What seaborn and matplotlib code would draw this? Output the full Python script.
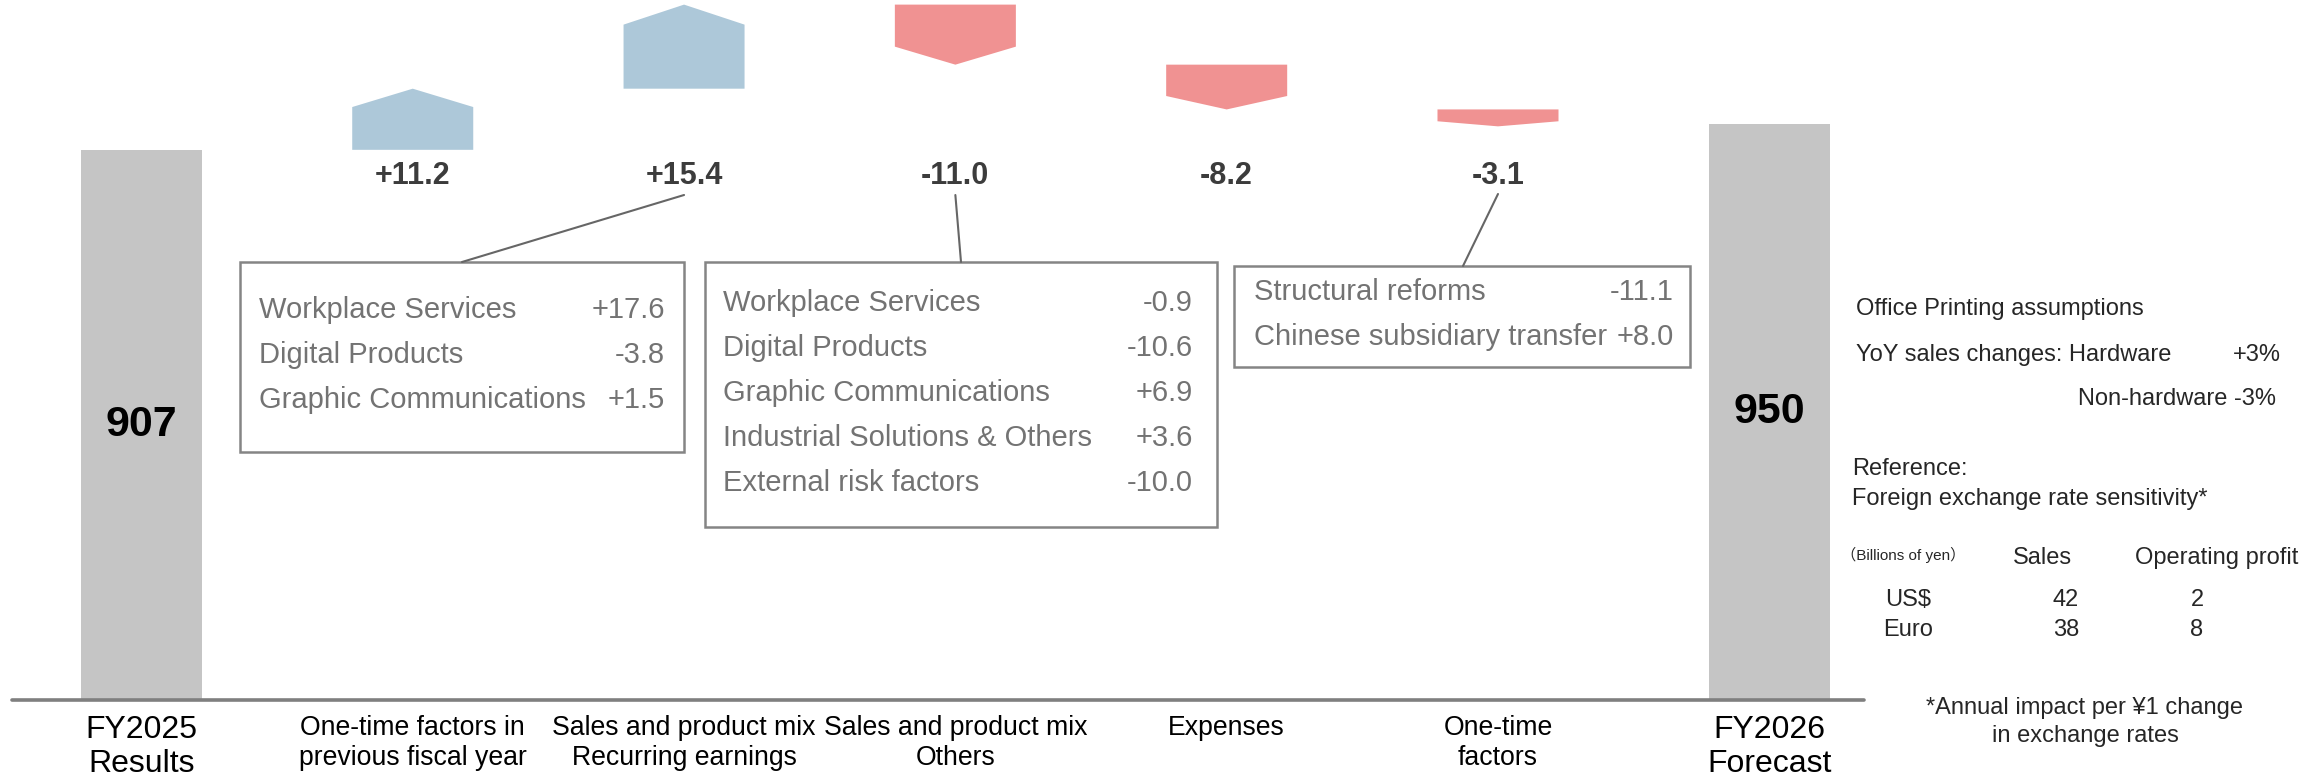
import numpy as np
import pandas as pd
import matplotlib
matplotlib.use("Agg")
import matplotlib.pyplot as plt
import seaborn as sns
from matplotlib.patches import Rectangle, Polygon
from matplotlib.lines import Line2D
from matplotlib.transforms import blended_transform_factory

# ---------------- data ----------------
categories = ["FY2025\nResults", "One-time factors in\nprevious fiscal year",
              "Sales and product mix\nRecurring earnings", "Sales and product mix\nOthers",
              "Expenses", "One-time\nfactors", "FY2026\nForecast"]
total_categories = ["FY2025\nResults", "FY2026\nForecast"]
total_values = [907, 950]                       # 100 million yen
change_values = [11.2, 15.4, -11.0, -8.2, -3.1]  # billion yen
change_labels = ["+11.2", "+15.4", "-11.0", "-8.2", "-3.1"]

box1_items = ["Workplace Services", "Digital Products", "Graphic Communications"]
box1_values = ["+17.6", "-3.8", "+1.5"]
box2_items = ["Workplace Services", "Digital Products", "Graphic Communications",
              "Industrial Solutions & Others", "External risk factors"]
box2_values = ["-0.9", "-10.6", "+6.9", "+3.6", "-10.0"]
box3_items = ["Structural reforms", "Chinese subsidiary transfer"]
box3_values = ["-11.1", "+8.0"]

fx_currencies = ["US$", "Euro"]
fx_sales = [42, 38]
fx_op = [2, 8]

# ---------------- style ----------------
sns.set_style("white")
plt.rcParams['font.family'] = ['Liberation Sans', 'Noto Sans CJK JP', 'DejaVu Sans']

W, H = 2318, 779
fig = plt.figure(figsize=(W / 100, H / 100), dpi=100)
ax = fig.add_axes([12 / W, 79 / H, (1864 - 12) / W, 700 / H])

BAR_W = 0.446
UP, DOWN, GREY = "#adc8d9", "#f09292", "#c5c5c5"

df = pd.DataFrame({"cat": total_categories, "val": total_values})
sns.barplot(data=df, x="cat", y="val", order=categories, color=GREY,
            saturation=1, width=BAR_W, linewidth=0, ax=ax)

ax.set_xlim(-0.477, 6.349)
ax.set_ylim(0, 1154)
for s in ax.spines.values():
    s.set_visible(False)
ax.set_yticks([])
ax.set_xlabel("")
ax.set_ylabel("")
ax.axhline(0, color="#7f7f7f", lw=2.6, clip_on=False, zorder=5)
ax.tick_params(axis="x", length=0, pad=11)
for i, t in enumerate(ax.get_xticklabels()):
    t.set_fontsize(23 if i in (0, len(categories) - 1) else 19.2)
    t.set_color("black")
    t.set_multialignment("center")
    t.set_linespacing(1.17)

# totals labels
for xi, v in zip([0, len(categories) - 1], total_values):
    ax.text(xi, v / 2, f"{v}", ha="center", va="center", fontsize=31,
            fontweight="bold", color="black")

# floating arrows (waterfall, visual units of 9 per billion yen)
unit = 9.0
levels = total_values[0] + unit * np.concatenate([[0], np.cumsum(change_values)])
blend = blended_transform_factory(ax.transData, ax.transAxes)
label_pos = {}
for i, d in enumerate(change_values):
    xc = i + 1
    y0, y1 = levels[i], levels[i + 1]
    L = abs(y1 - y0)
    h = min(0.3 * L, 33)
    sgn = np.sign(y1 - y0)
    shoulder = y1 - sgn * h
    hw = BAR_W / 2
    poly = [(xc - hw, y0), (xc + hw, y0), (xc + hw, shoulder), (xc, y1), (xc - hw, shoulder)]
    ax.add_patch(Polygon(poly, closed=True, fc=UP if d > 0 else DOWN, ec="none", zorder=3))
    ax.text(xc, 0.748, change_labels[i], transform=blend, ha="center", va="center",
            fontsize=22, fontweight="bold", color="#3c3c3c")
    label_pos[xc] = ax.transData.transform((xc, 0))[0]

# ---------------- callout boxes ----------------
def F(x, y):
    return (x / W, 1 - y / H)

BOX_EC = "#858585"
TXT = "#737373"

def draw_box(x0, y0, x1, y1):
    fig.add_artist(Rectangle(F(x0, y1), (x1 - x0) / W, (y1 - y0) / H,
                             transform=fig.transFigure, fill=False, ec=BOX_EC, lw=1.8))

def draw_rows(items, values, xl, xr, ys):
    for it, v, y in zip(items, values, ys):
        fig.text(*F(xl, y), it, ha="left", va="center", fontsize=21, color=TXT)
        fig.text(*F(xr, y), v, ha="right", va="center", fontsize=21, color=TXT)

def connector(xs, ys, xe, ye):
    fig.add_artist(Line2D([xs / W, xe / W], [1 - ys / H, 1 - ye / H],
                          transform=fig.transFigure, color="#666666", lw=1.5))

draw_box(240, 262, 684, 452)
draw_rows(box1_items, box1_values, 259, 665, [310, 355, 400])
connector(label_pos[2], 195, 462, 262)

draw_box(705, 262, 1217, 527)
draw_rows(box2_items, box2_values, 723, 1193, [303, 348, 393, 438, 483])
connector(label_pos[3], 195, 961, 262)

draw_box(1234, 266, 1690, 367)
draw_rows(box3_items, box3_values, 1254, 1674, [292, 337])
connector(label_pos[5], 194, 1463, 266)

# ---------------- right panel ----------------
FS = 17
fig.text(*F(1856, 309), "Office Printing assumptions", ha="left", va="center", fontsize=FS)
fig.text(*F(1856, 355), "YoY sales changes: Hardware", ha="left", va="center", fontsize=FS)
fig.text(*F(2281, 355), "+3%", ha="right", va="center", fontsize=FS)
fig.text(*F(2276, 399), "Non-hardware -3%", ha="right", va="center", fontsize=FS)
fig.text(*F(1852, 469), "Reference:", ha="left", va="center", fontsize=FS)
fig.text(*F(1852, 499), "Foreign exchange rate sensitivity*", ha="left", va="center", fontsize=FS)
fig.text(*F(1841, 555), "（Billions of yen）", ha="left", va="center", fontsize=11)
fig.text(*F(2042, 558), "Sales", ha="center", va="center", fontsize=FS)
fig.text(*F(2217, 558), "Operating profit", ha="center", va="center", fontsize=FS)
for cur, sv, ov, y in zip(fx_currencies, fx_sales, fx_op, [600, 630]):
    fig.text(*F(1908, y), cur, ha="center", va="center", fontsize=FS)
    fig.text(*F(2066, y), f"{sv}", ha="center", va="center", fontsize=FS)
    fig.text(*F(2197, y), f"{ov}", ha="center", va="center", fontsize=FS)
fig.text(*F(2085, 708), "*Annual impact per ¥1 change", ha="center", va="center", fontsize=FS)
fig.text(*F(2085, 736), "in exchange rates", ha="center", va="center", fontsize=FS)

fig.savefig("out.png", dpi=100, facecolor="white")
